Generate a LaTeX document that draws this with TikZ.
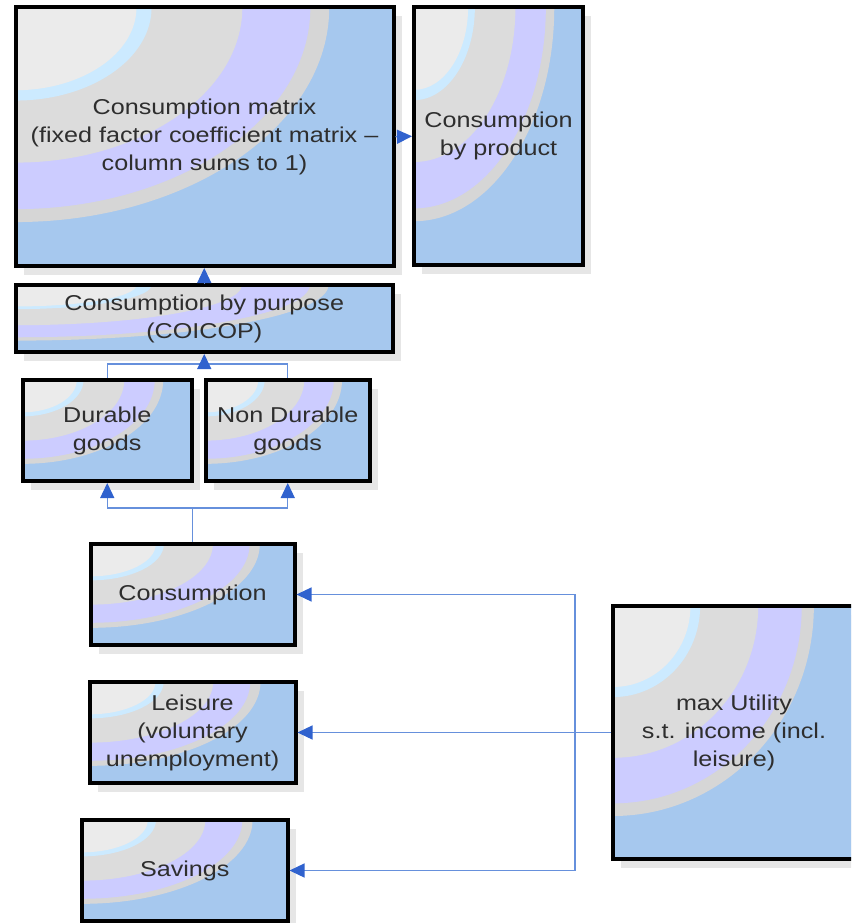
\documentclass[tikz,border=0pt]{standalone}
\usepackage{fontspec}
\newfontfamily\boxfont[FakeStretch=1.17,Ligatures=TeX]{Liberation Sans}
\usetikzlibrary{calc,shadows,arrows.meta}
\definecolor{cBlue}{HTML}{A6C8EE}
\definecolor{cGrayA}{HTML}{D6D6D6}
\definecolor{cLav}{HTML}{CCCCFF}
\definecolor{cGrayB}{HTML}{DCDCDC}
\definecolor{cCyan}{HTML}{CCEAFF}
\definecolor{cCore}{HTML}{EBEBEB}
\definecolor{cText}{HTML}{2E2E2E}
\definecolor{cLine}{HTML}{6690DC}
\definecolor{cArrow}{HTML}{3062CE}
\definecolor{cShadow}{HTML}{E6E6E6}
\tikzset{
  bands/.style={path picture={
    \fill[cBlue] (path picture bounding box.south west) rectangle (path picture bounding box.north east);
    \path let \p1=($(path picture bounding box.north east)-(path picture bounding box.south west)$) in
      \pgfextra{\xdef\bw{\x1}\xdef\bh{\y1}};
    \fill[cGrayA] (path picture bounding box.north west) ellipse [x radius=0.83*\bw, y radius=0.83*\bh];
    \fill[cLav] (path picture bounding box.north west) ellipse [x radius=0.78*\bw, y radius=0.78*\bh];
    \fill[cGrayB] (path picture bounding box.north west) ellipse [x radius=0.60*\bw, y radius=0.60*\bh];
    \fill[cCyan] (path picture bounding box.north west) ellipse [x radius=0.36*\bw, y radius=0.36*\bh];
    \fill[cCore] (path picture bounding box.north west) ellipse [x radius=0.32*\bw, y radius=0.32*\bh];
  }},
  blk/.style={draw=black, line width=4pt, rectangle, bands,
    drop shadow={shadow xshift=8pt, shadow yshift=-9pt, fill=cShadow, opacity=1},
    align=center, text=cText, inner sep=0pt,
    font=\boxfont\fontsize{21.5}{28}\selectfont},
  wire/.style={draw=cLine, line width=1.3pt},
  con/.style={wire, -{Triangle[length=15pt,width=14pt,color=cArrow]}},
}
\begin{document}
\begin{tikzpicture}[x=1pt,y=-1pt]
\useasboundingbox (0,0) rectangle (851,923);
\clip (0,0) rectangle (851,923);
\node[blk, minimum width=378pt, minimum height=258.5pt] (mat) at (204.5,136.75)
  {Consumption matrix\\(fixed factor coefficient matrix –\\column sums to 1)};
\node[blk, minimum width=169pt, minimum height=257.5pt] (prod) at (498.5,136.25)
  {Consumption\\by product};
\node[blk, minimum width=376.5pt, minimum height=67pt] (purp) at (204.25,318.5)
  {Consumption by purpose\\(COICOP)};
\node[blk, minimum width=169.5pt, minimum height=101pt] (dur) at (107.25,430.5)
  {Durable\\goods};
\node[blk, minimum width=164.5pt, minimum height=101pt] (nondur) at (287.75,430.5)
  {Non Durable\\goods};
\node[blk, minimum width=204pt, minimum height=101pt] (cons) at (192.5,594.5)
  {Consumption};
\node[blk, minimum width=206pt, minimum height=101pt] (leis) at (192.5,732.5)
  {Leisure\\(voluntary\\unemployment)};
\node[blk, minimum width=205.5pt, minimum height=101pt] (sav) at (184.75,870.5)
  {Savings};
\node[blk, minimum width=242pt, minimum height=253pt] (util) at (734,732.5)
  {max Utility\\s.t. income (incl.\\leisure)};
% connectors
\draw[con] (mat.east) -- (prod.west);
\draw[con] (purp.north) -- (purp.north |- mat.south);
\coordinate (j1) at (204.25,364);
\draw[wire] (dur.north) |- (j1) -| (nondur.north);
\draw[con] (j1) -- (purp.south);
\coordinate (j2) at (192.5,508);
\draw[wire] (cons.north) -- (j2);
\draw[con] (j2) -| (dur.south);
\draw[con] (j2) -| (nondur.south);
\coordinate (j3) at (575,732.5);
\draw[con] (util.west) -- (leis.east);
\draw[con] (j3) |- (cons.east);
\draw[con] (j3) |- (sav.east);
\end{tikzpicture}
\end{document}
